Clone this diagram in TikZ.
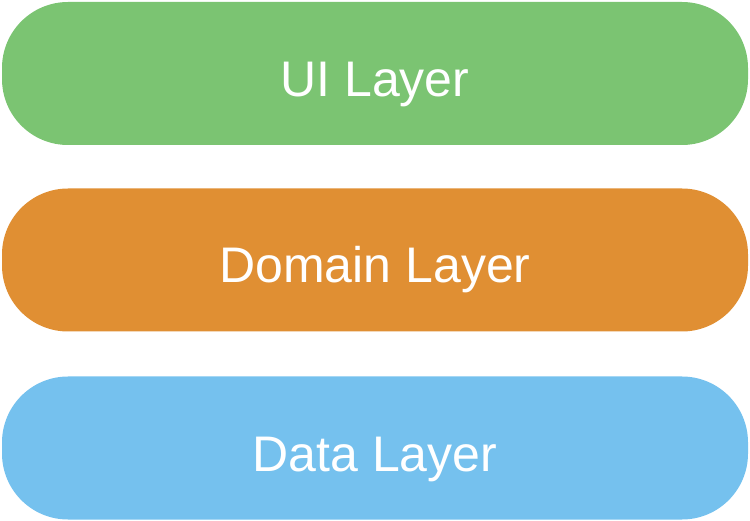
\documentclass[tikz,border=0pt]{standalone}
\usepackage{fontspec}
\setmainfont{Liberation Sans}
\definecolor{uigreen}{HTML}{7BC472}
\definecolor{domorange}{HTML}{E08F33}
\definecolor{datablue}{HTML}{75C1EE}
\begin{document}
\begin{tikzpicture}[x=1pt,y=-1pt,
  layer/.style={rounded corners=66pt, minimum width=746pt, minimum height=143pt,
    inner sep=0pt, text=white, text height=46pt, text depth=0pt,
    font=\fontsize{50}{58}\selectfont}]
\useasboundingbox (0,0) rectangle (750,521);
\node[layer, fill=uigreen] (ui) at (375,73.5) {UI Layer};
\node[layer, fill=domorange] (domain) at (375,260) {Domain Layer};
\node[layer, fill=datablue] (data) at (375,448) {Data Layer};
\end{tikzpicture}
\end{document}
